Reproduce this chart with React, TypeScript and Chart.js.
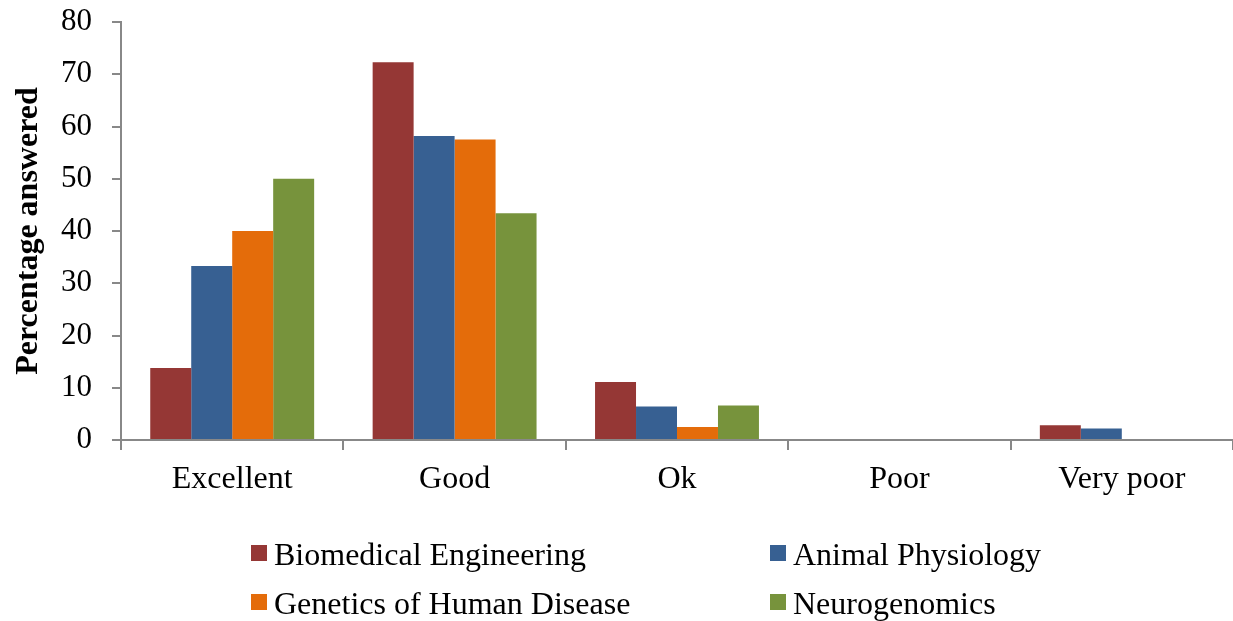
import React, { useEffect, useRef } from "react";
import { Chart, registerables } from "chart.js";

Chart.register(...registerables);

const categories = ["Excellent", "Good", "Ok", "Poor", "Very poor"];
const seriesNames = [
  "Biomedical Engineering",
  "Animal Physiology",
  "Genetics of Human Disease",
  "Neurogenomics",
];
const biomedicalEngineering = [13.8, 72.3, 11.1, 0, 2.8];
const animalPhysiology = [33.3, 58.2, 6.4, 0, 2.2];
const geneticsOfHumanDisease = [40.0, 57.5, 2.5, 0, 0];
const neurogenomics = [50.0, 43.4, 6.6, 0, 0];
const yAxisTitle = "Percentage answered";
const yMin = 0;
const yMax = 80;
const yStep = 10;

const seriesValues = [
  biomedicalEngineering,
  animalPhysiology,
  geneticsOfHumanDisease,
  neurogenomics,
];
const seriesColors = ["#953735", "#376092", "#E46C0A", "#77933C"];

const FONT = "'Liberation Serif', 'Times New Roman', Times, serif";
const AXIS_COLOR = "#888888";
const W = 1233;
const H = 621;

// legend layout (style only)
const legendPos = [
  { left: 251, top: 538 },
  { left: 770, top: 538 },
  { left: 251, top: 587 },
  { left: 770, top: 587 },
];

export default function App() {
  const canvasRef = useRef<HTMLCanvasElement | null>(null);

  useEffect(() => {
    if (!canvasRef.current) return;
    const chart = new Chart(canvasRef.current, {
      type: "bar",
      data: {
        labels: categories,
        datasets: seriesNames.map((name, i) => ({
          label: name,
          data: seriesValues[i],
          backgroundColor: seriesColors[i],
          borderWidth: 0,
          barPercentage: 1,
          categoryPercentage: 0.737,
        })),
      },
      options: {
        animation: false,
        responsive: false,
        devicePixelRatio: 1,
        layout: { padding: { top: 22, left: 0, right: 0, bottom: 0 } },
        plugins: {
          legend: { display: false },
          tooltip: { enabled: false },
          title: { display: false },
        },
        scales: {
          x: {
            grid: {
              display: true,
              drawOnChartArea: false,
              drawTicks: true,
              tickLength: 10,
              color: AXIS_COLOR,
              lineWidth: 2,
              offset: true,
            },
            border: { display: true, color: AXIS_COLOR, width: 2 },
            ticks: {
              color: "#000",
              padding: 10,
              font: { family: FONT, size: 32 },
              maxRotation: 0,
            },
            afterFit: (scale: any) => {
              scale.height = H - 440;
              scale.paddingLeft = 0;
              scale.paddingRight = 0;
            },
          },
          y: {
            min: yMin,
            max: yMax,
            grid: {
              display: true,
              drawOnChartArea: false,
              drawTicks: true,
              tickLength: 9,
              color: AXIS_COLOR,
              lineWidth: 2,
            },
            border: { display: true, color: AXIS_COLOR, width: 2 },
            ticks: {
              stepSize: yStep,
              color: "#000",
              padding: 20,
              font: { family: FONT, size: 31 },
            },
            title: {
              display: true,
              text: yAxisTitle,
              color: "#000",
              font: { family: FONT, size: 32, weight: "bold" },
              padding: { top: 10, bottom: 0 },
            },
            afterFit: (scale: any) => {
              scale.width = 121;
              scale.paddingTop = 0;
              scale.paddingBottom = 0;
            },
          },
        },
      },
    });
    return () => chart.destroy();
  }, []);

  return (
    <div style={{ position: "absolute", left: 0, top: 0, width: W, height: H, background: "#fff" }}>
      <canvas ref={canvasRef} width={W} height={H} style={{ width: W, height: H, display: "block" }} />
      {seriesNames.map((name, i) => (
        <div
          key={name}
          style={{
            position: "absolute",
            left: legendPos[i].left,
            top: legendPos[i].top,
            display: "flex",
            alignItems: "flex-start",
            fontFamily: FONT,
            fontSize: 32,
            lineHeight: "32px",
            color: "#000",
            whiteSpace: "nowrap",
          }}
        >
          <span
            style={{
              display: "inline-block",
              width: 16,
              height: 16,
              marginTop: 7,
              marginRight: 7,
              background: seriesColors[i],
            }}
          />
          <span>{name}</span>
        </div>
      ))}
    </div>
  );
}
